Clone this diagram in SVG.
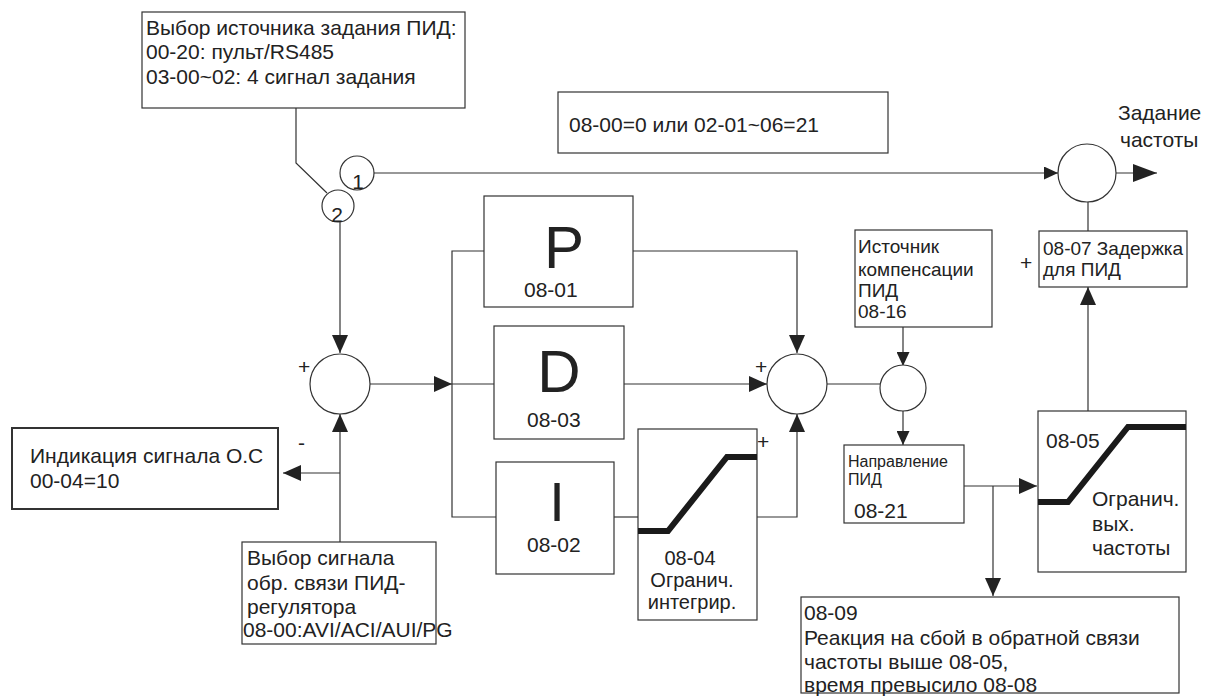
<svg xmlns="http://www.w3.org/2000/svg" width="1205" height="696" viewBox="0 0 1205 696">
<style>
.bx{fill:#fff;stroke:#333;stroke-width:1.2}
.ln{fill:none;stroke:#333;stroke-width:1.2}
.ck{fill:#fff;stroke:#333;stroke-width:1.2}
.t{font-family:"Liberation Sans",Arial,sans-serif;font-size:21px;fill:#222}
.m{font-family:"Liberation Sans",Arial,sans-serif;font-size:20px;fill:#222;text-anchor:middle}
.s{font-family:"Liberation Sans",Arial,sans-serif;font-size:19px;fill:#222}
.xs{font-family:"Liberation Sans",Arial,sans-serif;font-size:16px;fill:#222}
.big{font-family:"Liberation Sans",Arial,sans-serif;font-size:60px;fill:#222;text-anchor:middle}
.lim{fill:none;stroke:#1a1a1a;stroke-width:6}
</style>
<defs>
<marker id="a" markerUnits="userSpaceOnUse" markerWidth="18" markerHeight="16" refX="18" refY="8" orient="auto">
<path d="M0,0 L18,8 L0,16 z" fill="#222"/>
</marker>
<marker id="as" markerUnits="userSpaceOnUse" markerWidth="14" markerHeight="13" refX="14" refY="6.5" orient="auto">
<path d="M0,0 L14,6.5 L0,13 z" fill="#222"/>
</marker>
<marker id="ab" markerUnits="userSpaceOnUse" markerWidth="24" markerHeight="18" refX="24" refY="9" orient="auto">
<path d="M0,0 L24,9 L0,18 z" fill="#222"/>
</marker>
</defs>

<g id="connectors">
<polyline class="ln" points="296,108 296,163 327,193"/>
<line class="ln" x1="373" y1="173" x2="1058" y2="173" marker-end="url(#as)"/>
<line class="ln" x1="1116" y1="173" x2="1157" y2="173" marker-end="url(#ab)"/>
<line class="ln" x1="1088" y1="202" x2="1088" y2="231"/>
<line class="ln" x1="1088" y1="411" x2="1088" y2="287" marker-end="url(#a)"/>
<line class="ln" x1="340" y1="222" x2="340" y2="353" marker-end="url(#a)"/>
<line class="ln" x1="370" y1="384" x2="452" y2="384" marker-end="url(#a)"/>
<line class="ln" x1="340" y1="542" x2="340" y2="414" marker-end="url(#a)"/>
<line class="ln" x1="340" y1="473" x2="283" y2="473" marker-end="url(#a)"/>
<polyline class="ln" points="484,251 452,251 452,517 496,517"/>
<line class="ln" x1="452" y1="384" x2="494" y2="384"/>
<polyline class="ln" points="633,251 797,251 797,353" marker-end="url(#a)"/>
<line class="ln" x1="624" y1="384" x2="767" y2="384" marker-end="url(#a)"/>
<line class="ln" x1="614" y1="517" x2="638" y2="517"/>
<polyline class="ln" points="757,517 797,517 797,414" marker-end="url(#a)"/>
<line class="ln" x1="827" y1="384" x2="880" y2="384"/>
<line class="ln" x1="903" y1="327" x2="903" y2="366" marker-end="url(#as)"/>
<line class="ln" x1="903" y1="410" x2="903" y2="445" marker-end="url(#as)"/>
<line class="ln" x1="964" y1="486" x2="1037" y2="486" marker-end="url(#a)"/>
<line class="ln" x1="993" y1="486" x2="993" y2="596" marker-end="url(#a)"/>
</g>

<g id="src-select">
<rect class="bx" x="142" y="12" width="323" height="96"/>
<text class="t" x="146" y="35">Выбор источника задания ПИД:</text>
<text class="t" x="146" y="59">00-20: пульт/RS485</text>
<text class="t" x="146" y="84">03-00~02: 4 сигнал задания</text>
</g>

<g id="sw1">
<circle class="ck" cx="357" cy="173" r="17"/>
<text class="t" x="358" y="189" text-anchor="middle">1</text>
</g>
<g id="sw2">
<circle class="ck" cx="338" cy="206" r="16"/>
<text class="t" x="337" y="222" text-anchor="middle">2</text>
</g>

<g id="cond">
<rect class="bx" x="558" y="92" width="330" height="61"/>
<text class="t" x="569" y="132">08-00=0 или 02-01~06=21</text>
</g>

<g id="freq-cmd">
<text class="t" x="1118" y="120">Задание</text>
<text class="t" x="1120" y="147">частоты</text>
<circle class="ck" cx="1087" cy="173" r="29"/>
</g>

<g id="delay">
<rect class="bx" x="1039" y="231" width="148" height="56"/>
<text class="s" x="1043" y="255">08-07 Задержка</text>
<text class="s" x="1043" y="276">для ПИД</text>
<text class="t" x="1020" y="270">+</text>
</g>

<g id="comp-src">
<rect class="bx" x="855" y="230" width="137" height="97"/>
<text class="s" x="858" y="253">Источник</text>
<text class="s" x="858" y="276">компенсации</text>
<text class="s" x="858" y="297">ПИД</text>
<text class="s" x="858" y="318">08-16</text>
</g>

<g id="sum-left">
<circle class="ck" cx="340" cy="384" r="30"/>
<text class="t" x="298" y="374">+</text>
<text class="t" x="298" y="450">-</text>
</g>

<g id="fb-display">
<rect x="12" y="428" width="266" height="81" fill="#fff" stroke="#333" stroke-width="2"/>
<text class="t" x="30" y="463">Индикация сигнала О.С</text>
<text class="t" x="30" y="488">00-04=10</text>
</g>

<g id="fb-select">
<rect class="bx" x="242" y="542" width="194" height="102"/>
<text class="t" x="247" y="565">Выбор сигнала</text>
<text class="t" x="247" y="590">обр. связи ПИД-</text>
<text class="t" x="247" y="614">регулятора</text>
<text class="t" x="243" y="637">08-00:AVI/ACI/AUI/PG</text>
</g>

<g id="P">
<rect class="bx" x="484" y="196" width="149" height="111"/>
<text class="big" x="564" y="268">P</text>
<text class="t" x="524" y="297">08-01</text>
</g>

<g id="D">
<rect class="bx" x="494" y="326" width="130" height="113"/>
<text class="big" x="559" y="392">D</text>
<text class="t" x="527" y="427">08-03</text>
</g>

<g id="I">
<rect class="bx" x="496" y="462" width="118" height="112"/>
<text class="big" x="557" y="521" style="font-size:56px">I</text>
<text class="t" x="527" y="552">08-02</text>
</g>

<g id="int-limit">
<rect class="bx" x="638" y="429" width="119" height="191"/>
<polyline class="lim" points="638,531 668,531 727,457 757,457"/>
<text class="m" x="690" y="565">08-04</text>
<text class="m" x="692" y="587">Огранич.</text>
<text class="m" x="692" y="609">интегрир.</text>
<text class="t" x="757" y="449">+</text>
</g>

<g id="sum-mid">
<circle class="ck" cx="797" cy="384" r="30"/>
<text class="t" x="755" y="374">+</text>
</g>

<g id="sum-comp">
<circle class="ck" cx="903" cy="388" r="23"/>
</g>

<g id="direction">
<rect class="bx" x="844" y="445" width="120" height="78"/>
<text class="xs" x="848" y="467">Направление</text>
<text class="xs" x="848" y="485">ПИД</text>
<text class="t" x="854" y="518">08-21</text>
</g>

<g id="out-limit">
<rect class="bx" x="1038" y="411" width="148" height="161"/>
<polyline class="lim" points="1038,502 1068,502 1128,427 1186,427"/>
<text class="t" x="1046" y="448">08-05</text>
<text class="t" x="1092" y="506">Огранич.</text>
<text class="t" x="1092" y="531">вых.</text>
<text class="t" x="1092" y="555">частоты</text>
</g>

<g id="fault">
<rect class="bx" x="801" y="597" width="378" height="96"/>
<text class="t" x="804" y="620">08-09</text>
<text class="t" x="804" y="645">Реакция на сбой в обратной связи</text>
<text class="t" x="804" y="669">частоты выше 08-05,</text>
<text class="t" x="804" y="692">время превысило 08-08</text>
</g>
</svg>
